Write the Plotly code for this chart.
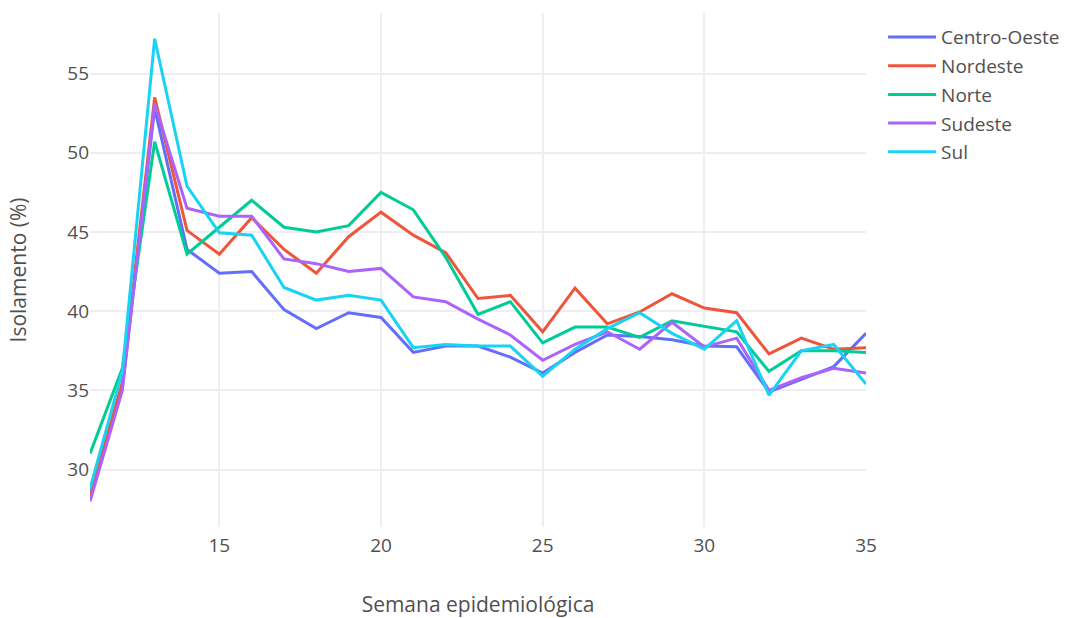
import plotly.graph_objects as go

semanas = list(range(11, 36))

centro_oeste = [28.5, 35.2, 52.8, 43.9, 42.4, 42.5, 40.1, 38.9, 39.9, 39.6, 37.4, 37.8, 37.8, 37.1, 36.1,
                37.4, 38.5, 38.4, 38.2, 37.8, 37.75, 34.9, 35.7, 36.5, 38.6]
nordeste = [28.3, 35.5, 53.5, 45.1, 43.6, 45.9, 43.9, 42.4, 44.7, 46.25, 44.8, 43.7, 40.8, 41.0, 38.7,
            41.45, 39.2, 39.95, 41.1, 40.2, 39.9, 37.3, 38.3, 37.6, 37.7]
norte = [31.0, 36.4, 50.7, 43.6, 45.3, 47.0, 45.3, 45.0, 45.4, 47.5, 46.4, 43.4, 39.8, 40.6, 38.0,
         39.0, 39.0, 38.35, 39.4, 39.05, 38.7, 36.2, 37.5, 37.5, 37.4]
sudeste = [28.0, 35.0, 53.1, 46.5, 46.0, 46.0, 43.3, 43.0, 42.5, 42.7, 40.9, 40.6, 39.5, 38.5, 36.9,
           37.9, 38.7, 37.6, 39.3, 37.75, 38.3, 35.0, 35.8, 36.4, 36.1]
sul = [28.8, 36.2, 57.2, 47.9, 44.95, 44.8, 41.5, 40.7, 41.0, 40.7, 37.7, 37.9, 37.8, 37.8, 35.9,
       37.6, 38.9, 39.9, 38.6, 37.6, 39.4, 34.7, 37.5, 37.9, 35.4]

series = [
    ("Centro-Oeste", centro_oeste, "#636efa"),
    ("Nordeste", nordeste, "#EF553B"),
    ("Norte", norte, "#00cc96"),
    ("Sudeste", sudeste, "#ab63fa"),
    ("Sul", sul, "#19d3f3"),
]

fig = go.Figure()
for nome, vals, cor in series:
    fig.add_trace(go.Scatter(x=semanas, y=vals, mode="lines", name=nome, legendgroup=nome,
                             line=dict(color=cor, width=3)))

grid = "#ECEEF3"
fig.update_layout(
    template="plotly_white",
    width=1068, height=618,
    margin=dict(l=90, r=202, t=13, b=91, autoexpand=False),
    font=dict(family="Open Sans", size=19, color="#505050"),
    legend=dict(font=dict(size=19), itemwidth=48, x=1.022, xanchor="left",
                y=0.99, yanchor="top", tracegroupgap=1),
    xaxis=dict(title=dict(text="Semana epidemiológica", font=dict(size=21), standoff=42),
               dtick=5, tick0=0, gridcolor=grid, gridwidth=1.5, zeroline=False,
               range=[11, 35], automargin=False, ticklabelstandoff=5),
    yaxis=dict(title=dict(text="Isolamento (%)", font=dict(size=21), standoff=34),
               dtick=5, tick0=0, gridcolor=grid, gridwidth=1.5, zeroline=False,
               automargin=False),
)

fig.write_html("out.html", config={"displayModeBar": False},
               post_script="document.body.style.margin='0';")
